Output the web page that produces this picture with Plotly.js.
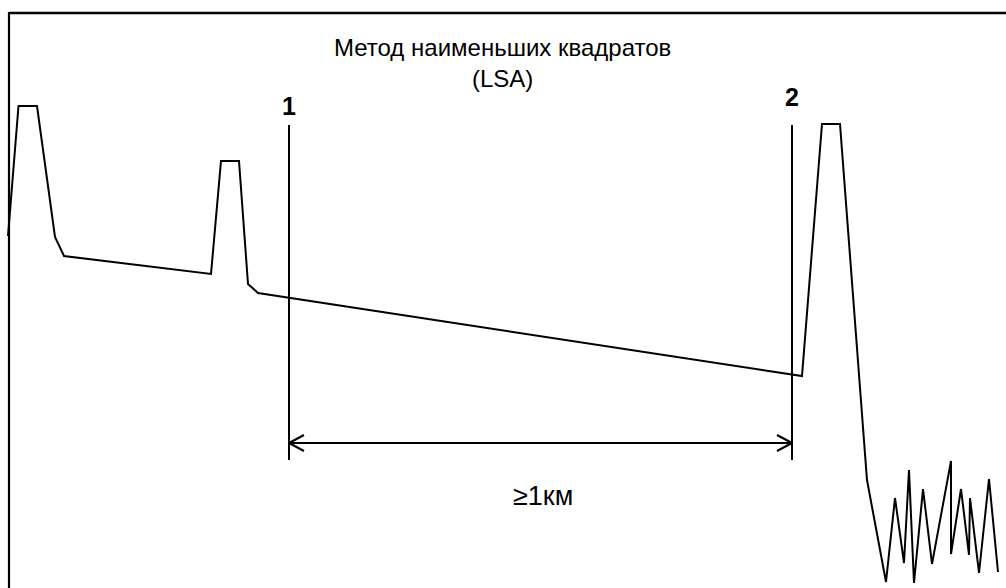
<!DOCTYPE html>
<html>
<head>
<meta charset="utf-8">
<script src="https://cdn.plot.ly/plotly-3.0.1.min.js"></script>
<style>html,body{margin:0;padding:0;background:#fff;}#chart{width:1006px;height:588px;}</style>
</head>
<body>
<div id="chart"></div>
<script>
// Reflectogram trace (distance units, signal units; y grows downward)
const traceX = [8, 18.5, 37, 55, 64, 211, 221, 239, 248, 258, 802, 822, 840, 867, 886, 895, 904, 909, 914, 923, 932, 951, 951, 961, 969, 970, 979, 989, 998];
const traceY = [236, 106, 106, 237, 256, 274, 161, 161, 284, 293, 376, 124, 124, 480, 582, 498, 563, 470, 583, 489, 564, 461, 554, 489, 555, 498, 573, 479, 572];

// Marker lines 1 and 2
const markerLabels = ["1", "2"];
const markerX = [289, 792];
const markerTop = [125, 125];
const markerBottom = [460, 460];
const markerLabelY = [106, 97];

// Span arrow between markers
const spanY = 443;
const spanLabel = "≥1км";
const spanLabelY = 496;

const titleLines = ["Метод наименьших квадратов", "(LSA)"];
const titleY = [47, 78];
const titleX = 502;

const black = "#000";
const font = "Liberation Sans, Arial, sans-serif";
const traces = [];
traces.push({x: traceX, y: traceY, mode: "lines", line: {color: black, width: 2}, hoverinfo: "skip"});
for (let i = 0; i < markerX.length; i++) {
  traces.push({x: [markerX[i], markerX[i]], y: [markerTop[i], markerBottom[i]], mode: "lines",
    line: {color: black, width: 2}, hoverinfo: "skip"});
}
// arrow shaft + heads
const headL = 15, headH = 8;
const xa = markerX[0], xb = markerX[1];
traces.push({x: [xa, xb], y: [spanY, spanY], mode: "lines", line: {color: black, width: 2}, hoverinfo: "skip"});
traces.push({x: [xa + headL, xa, xa + headL], y: [spanY - headH, spanY, spanY + headH], mode: "lines", line: {color: black, width: 2}, hoverinfo: "skip"});
traces.push({x: [xb - headL, xb, xb - headL], y: [spanY - headH, spanY, spanY + headH], mode: "lines", line: {color: black, width: 2}, hoverinfo: "skip"});

const annotations = [];
for (let i = 0; i < titleLines.length; i++) {
  annotations.push({x: titleX, y: titleY[i], xref: "x", yref: "y", text: titleLines[i], showarrow: false,
    font: {family: font, size: 24, color: black}, xanchor: "center", yanchor: "middle"});
}
for (let i = 0; i < markerX.length; i++) {
  annotations.push({x: markerX[i], y: markerLabelY[i], xref: "x", yref: "y", text: "<b>" + markerLabels[i] + "</b>",
    showarrow: false, font: {family: font, size: 25, color: black}, xanchor: "center", yanchor: "middle"});
}
annotations.push({x: (xa + xb) / 2 + 2, y: spanLabelY, xref: "x", yref: "y", text: spanLabel, showarrow: false,
  font: {family: font, size: 27, color: black}, xanchor: "center", yanchor: "middle"});

const layout = {
  width: 1006, height: 588,
  margin: {l: 0, r: 0, t: 0, b: 0, pad: 0},
  paper_bgcolor: "#fff", plot_bgcolor: "#fff",
  showlegend: false,
  xaxis: {range: [0, 1006], visible: false, fixedrange: true},
  yaxis: {range: [588, 0], visible: false, fixedrange: true},
  shapes: [
    {type: "line", xref: "x", yref: "y", x0: 9, x1: 1006, y0: 13, y1: 13, line: {color: black, width: 2.4}},
    {type: "line", xref: "x", yref: "y", x0: 9, x1: 9, y0: 12, y1: 588, line: {color: black, width: 2.2}}
  ],
  annotations: annotations
};
Plotly.newPlot("chart", traces, layout, {staticPlot: true, displayModeBar: false});
</script>
</body>
</html>
